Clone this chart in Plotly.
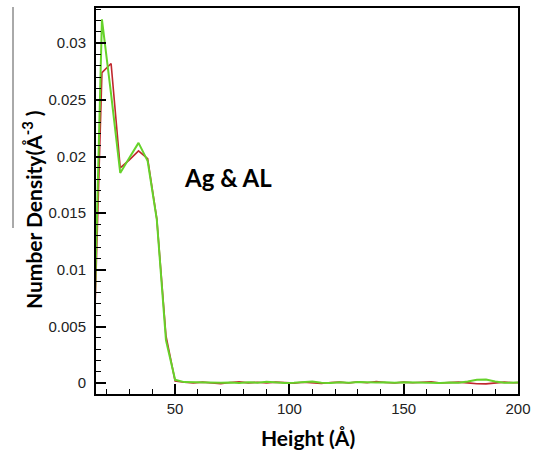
import plotly.graph_objects as go

# Height (Å)
height = [14, 18, 22, 26, 30, 34, 38, 42, 46, 50,
          54, 58, 62, 66, 70, 74, 78, 82, 86, 90, 94, 98, 102, 106, 110, 114, 118,
          122, 126, 130, 134, 138, 142, 146, 150, 154, 158, 162, 166, 170, 174, 178,
          182, 186, 190, 194, 198, 202]

# Number density (Å^-3)
density_red = [0.0, 0.0274, 0.0282, 0.0190, 0.0197, 0.0205, 0.0198, 0.0145, 0.0042, 0.0002,
               0.00008, 0.00002, 0.00010, 0.00004, -0.00004, 0.00006, 0.00012, 0.00003, 0.00008,
               0.00002, 0.00010, 0.00005, 0.00001, 0.00008, 0.00003, -0.00002, 0.00006, 0.00010,
               0.00002, 0.00012, 0.00004, 0.00015, 0.00006, 0.00002, 0.00010, 0.00004, 0.00008,
               0.00012, 0.00002, 0.00006, 0.00010, 0.00003, -0.00005, -0.00006, 0.00002,
               0.00010, 0.00004, 0.00006]
density_green = [0.0, 0.0321, 0.0255, 0.01855, 0.0199, 0.0212, 0.0196, 0.01443, 0.0038, 0.0003,
                 0.00010, 0.00008, 0.00005, 0.00006, 0.00004, 0.00006, 0.00003, 0.00008, 0.00005,
                 0.00012, 0.00006, 0.00003, 0.00005, 0.00009, 0.00015, 0.00005, 0.00003, 0.00008,
                 0.00004, 0.00010, 0.00005, 0.00006, 0.00009, 0.00004, 0.00008, 0.00006, 0.00010,
                 0.00004, 0.00003, 0.00006, 0.00005, 0.00015, 0.00030, 0.00032, 0.00015,
                 0.00005, 0.00008, 0.00006]

x_ticks = [50, 100, 150, 200]
y_ticks = [0, 0.005, 0.01, 0.015, 0.02, 0.025, 0.03]
y_tick_text = ["0", "0.005", "0.01", "0.015", "0.02", "0.025", "0.03"]

fig = go.Figure()
fig.add_trace(go.Scatter(x=height, y=density_red, mode="lines",
                         line=dict(color="#c0272d", width=1.6), showlegend=False))
fig.add_trace(go.Scatter(x=height, y=density_green, mode="lines",
                         line=dict(color="#66d22a", width=2), showlegend=False))

L, R, T, B = 96, 16, 8, 57
W, H = 534, 451

fig.update_layout(
    width=W, height=H,
    margin=dict(l=L, r=R, t=T, b=B, pad=0, autoexpand=False),
    paper_bgcolor="white", plot_bgcolor="white",
    font=dict(family="Liberation Sans, Arial", size=15, color="#222"),
    xaxis=dict(range=[15.4, 200], tickvals=x_ticks, ticks="inside", ticklen=10, tickwidth=2,
               tickcolor="black", showline=True, linecolor="black", linewidth=2, mirror=True,
               showgrid=False, zeroline=False, automargin=False,
               minor=dict(dtick=10, tick0=0, ticks="inside", ticklen=5, tickwidth=1, tickcolor="black",
                          showgrid=False),
               tickfont=dict(size=15)),
    yaxis=dict(range=[-0.00095, 0.0331], tickvals=y_ticks, ticktext=y_tick_text,
               ticks="inside", ticklen=10, tickwidth=2, tickcolor="black",
               showline=True, linecolor="black", linewidth=2, mirror=True,
               showgrid=False, zeroline=False, automargin=False,
               minor=dict(dtick=0.001, tick0=0, ticks="inside", ticklen=5, tickwidth=1,
                          tickcolor="black", showgrid=False),
               tickfont=dict(size=15), ticklabelstandoff=5),
)

fig.add_annotation(text="<b>Height (Å)</b>", xref="paper", yref="paper",
                   x=(308 - L) / (W - L - R), y=-(437 - (H - B)) / (H - T - B),
                   showarrow=False, font=dict(family="Lato, Open Sans", size=21, color="black"),
                   xanchor="center", yanchor="middle")
fig.add_annotation(text="<b>Number Density(Å<sup>-3</sup> )</b>", xref="paper", yref="paper",
                   x=-(L - 32) / (W - L - R), y=(H - B - 210) / (H - T - B),
                   textangle=-90, showarrow=False,
                   font=dict(family="Lato, Open Sans", size=21, color="black"),
                   xanchor="center", yanchor="middle")
fig.add_annotation(text="<b>Ag &amp; AL</b>", xref="paper", yref="paper",
                   x=(182 - L) / (W - L - R), y=(H - B - 177) / (H - T - B),
                   showarrow=False, font=dict(family="Lato, Open Sans", size=24, color="black"),
                   xanchor="left", yanchor="middle")

# stray vertical line at the far left of the original image
fig.add_shape(type="line", xref="paper", yref="paper",
              x0=(13 - L) / (W - L - R), x1=(13 - L) / (W - L - R),
              y0=(H - B - 7) / (H - T - B), y1=(H - B - 228) / (H - T - B),
              line=dict(color="#555", width=1))

fig.write_html("out.html")
